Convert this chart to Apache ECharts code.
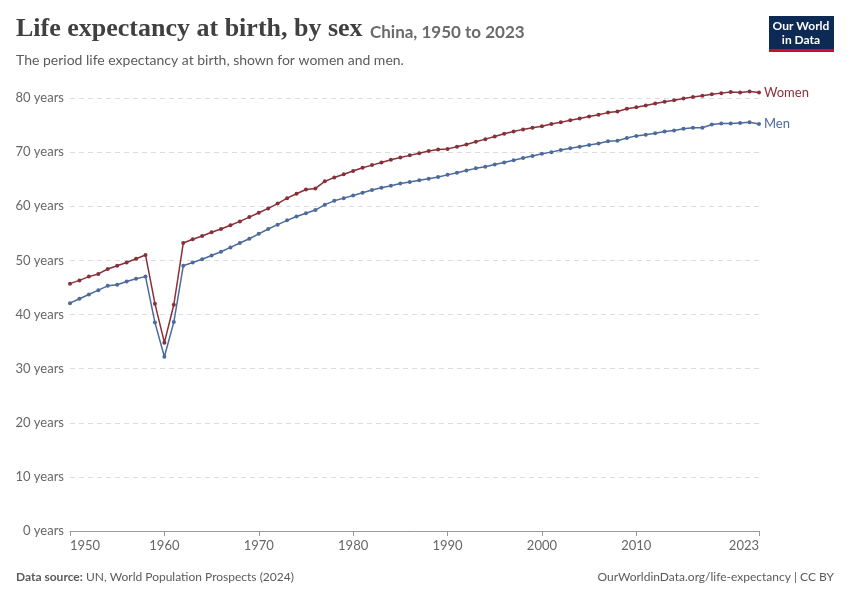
<!DOCTYPE html><html><head><meta charset="utf-8"><script src="https://cdn.jsdelivr.net/npm/echarts@6/dist/echarts.min.js"></script>
<style>body{margin:0}#c{width:850px;height:600px}</style></head><body><div id="c"></div><script>
const years=[];for(let y=1950;y<=2023;y++)years.push(y);
const women=[45.7,46.3,47.0,47.5,48.4,49.0,49.6,50.3,51.0,42.0,34.8,41.8,53.2,53.9,54.5,55.2,55.8,56.5,57.2,58.0,58.8,59.6,60.5,61.5,62.3,63.1,63.3,64.6,65.3,65.9,66.5,67.1,67.6,68.1,68.6,69.0,69.4,69.8,70.2,70.5,70.6,71.0,71.4,71.9,72.4,72.9,73.4,73.8,74.2,74.5,74.8,75.2,75.5,75.9,76.2,76.6,76.9,77.3,77.5,78.0,78.3,78.6,79.0,79.3,79.6,79.9,80.2,80.4,80.7,80.9,81.1,81.0,81.2,81.0];
const men=[42.1,42.9,43.7,44.5,45.3,45.5,46.1,46.6,47.0,38.5,32.2,38.6,49.0,49.6,50.2,50.9,51.6,52.4,53.2,54.0,54.9,55.8,56.6,57.4,58.1,58.7,59.3,60.3,61.0,61.5,62.0,62.5,63.0,63.4,63.8,64.2,64.5,64.8,65.1,65.4,65.8,66.2,66.6,67.0,67.3,67.7,68.1,68.5,68.9,69.3,69.7,70.0,70.4,70.7,71.0,71.3,71.6,72.0,72.1,72.6,73.0,73.2,73.5,73.8,74.0,74.3,74.5,74.5,75.1,75.3,75.3,75.4,75.5,75.2];
const xTicks=[1950,1960,1970,1980,1990,2000,2010,2023];
const F='Lato, sans-serif';
const mk=(name,vals,color)=>({name,type:'line',data:years.map((y,i)=>[y,vals[i]]),symbol:'circle',symbolSize:4,clip:false,
 lineStyle:{color,width:1.5},itemStyle:{color},
 endLabel:{show:true,formatter:name,color,fontFamily:F,fontSize:13,offset:[-3,0]},animation:false});
const ch=echarts.init(document.getElementById('c'));
ch.setOption({
 graphic:[
  {type:'text',left:16,top:16,style:{text:'Life expectancy at birth, by sex',font:'bold 26px "Liberation Serif", serif',fill:'#404040'}},
  {type:'text',left:370,top:24,style:{text:'China, 1950 to 2023',font:'bold 17px Lato, sans-serif',fill:'#6b6b6b'}},
  {type:'text',left:16,top:53,style:{text:'The period life expectancy at birth, shown for women and men.',font:'14px Lato, sans-serif',fill:'#5b5b5b'}},
  {type:'rect',shape:{x:769,y:16,width:65,height:36},style:{fill:'#0d2a54'}},
  {type:'rect',shape:{x:769,y:49,width:65,height:3},style:{fill:'#c8102e'}},
  {type:'text',style:{x:801,y:19,text:'Our World\nin Data',font:'bold 12px Lato, sans-serif',fill:'#fff',textAlign:'center',lineHeight:14}},
  {type:'text',left:16,top:571,style:{text:'{b|Data source:} UN, World Population Prospects (2024)',font:'12px Lato, sans-serif',fill:'#5b5b5b',rich:{b:{fontWeight:'bold',fontFamily:F,fontSize:12,fill:'#5b5b5b'}}}},
  {type:'text',right:16,top:571,style:{text:'OurWorldinData.org/life-expectancy | CC BY',font:'12px Lato, sans-serif',fill:'#5b5b5b'}}
 ],
 grid:{left:70,right:91,top:98,bottom:69},
 xAxis:{type:'value',min:1950,max:2023,axisLine:{lineStyle:{color:'#999'}},axisTick:{show:true,customValues:xTicks,lineStyle:{color:'#999'}},
  splitLine:{show:false},axisLabel:{customValues:xTicks,color:'#666',fontFamily:F,fontSize:13,formatter:v=>String(v),alignMinLabel:'left',alignMaxLabel:'right'}},
 yAxis:{type:'value',min:0,max:80,interval:10,axisLine:{show:false},axisTick:{show:false},
  splitLine:{lineStyle:{color:'#ddd',type:[5,4]}},axisLabel:{color:'#666',fontFamily:F,fontSize:13,formatter:v=>v+' years',margin:6,align:'right'}},
 series:[mk('Women',women,'#883039'),mk('Men',men,'#4c6a9c')]
});
</script></body></html>
